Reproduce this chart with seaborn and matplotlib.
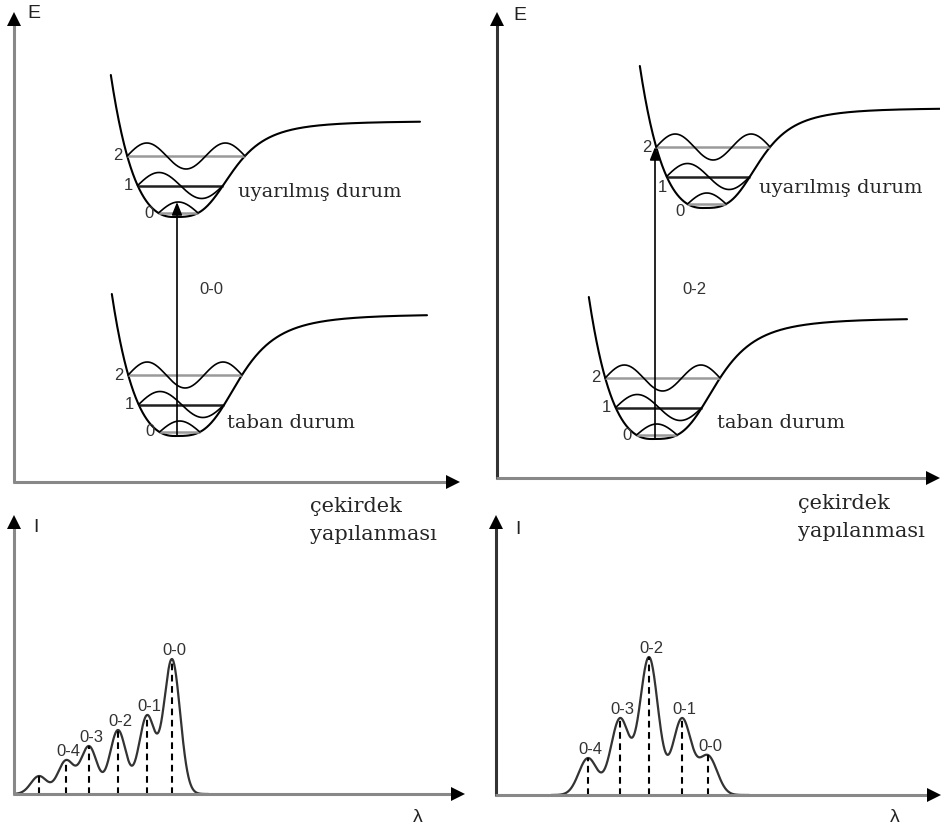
import numpy as np
import matplotlib
matplotlib.use("Agg")
import matplotlib.pyplot as plt
import seaborn as sns

sns.set_style("white")
plt.rcParams["font.family"] = ["Liberation Sans", "DejaVu Sans"]

FIG_W, FIG_H = 942, 827

# ---------------- data ----------------
# vibrational levels: energy above well minimum, wavefunction amplitude
level_labels = ["0", "1", "2"]
level_energy = [4.0, 31.5, 61.0]
wave_amplitude = [11.0, 13.0, 13.0]

# potential wells: TL excited, TL ground, TR excited, TR ground
well_panel = [0, 0, 1, 1]
well_min_q = [159, 160, 205, 154]
well_min_e = [265, 46, 270, 39]
well_depth = [96, 122, 100, 121]
well_width = [61.4, 68, 59.9, 68.7]
well_q_end = [406, 413, 445, 410]

# state names
state_names = ["uyarılmış durum", "taban durum"]

# transitions drawn in the top panels
transition_label = ["0-0", "0-2"]
transition_upper_v = [0, 2]
transition_q = [163, 158]

# spectra (bottom panels)
spec_left_pos = [25, 52, 75, 104, 133, 158]
spec_left_int = [18, 34, 48, 64, 79, 135]
spec_left_lab = ["", "0-4", "0-3", "0-2", "0-1", "0-0"]
spec_right_pos = [92, 124, 153, 186, 212]
spec_right_int = [37, 77, 138, 77, 40]
spec_right_lab = ["0-4", "0-3", "0-2", "0-1", "0-0"]

axis_E, axis_I, axis_q, axis_lam = "E", "I", ["çekirdek", "yapılanması"], "λ"

# ---------------- helpers ----------------
A_LEFT, D_LEFT, WALL_TOP, P_RIGHT = 0.0128, 96.0, 142.0, 3.5
SERIF = ["DejaVu Serif"]
SANS = ["Liberation Sans", "DejaVu Sans"]


def potential(r, depth, width):
    r = np.asarray(r, float)
    left = D_LEFT * (np.exp(-A_LEFT * r) - 1) ** 2
    z = (np.clip(r, 0, None) / width) ** P_RIGHT
    right = depth * z / (1 + z)
    return np.where(r < 0, left, right)


def turning_points(e, depth, width):
    rl = -np.log(1 + np.sqrt(e / D_LEFT)) / A_LEFT
    rr = width * (e / (depth - e)) ** (1 / P_RIGHT)
    return rl, rr


def line(ax, x, y, **kw):
    sns.lineplot(x=np.asarray(x, float), y=np.asarray(y, float), ax=ax,
                 sort=False, estimator=None, legend=False, **kw)


def make_axes(fig, left, bottom, width, height):
    ax = fig.add_axes([left / FIG_W, (FIG_H - bottom) / FIG_H, width / FIG_W, height / FIG_H])
    ax.axis("off")
    return ax


def finish_axes(ax, width, height, vcolor, hcolor):
    ax.plot([0, 0], [-1, height - 8], color=vcolor, lw=2.2, clip_on=False, solid_capstyle="butt")
    ax.plot([-1, width - 8], [0, 0], color=hcolor, lw=2.2, clip_on=False, solid_capstyle="butt")
    ax.plot([0], [height - 7], marker="^", ms=10.5, mew=0, color="black", clip_on=False)
    ax.plot([width - 7], [0], marker=">", ms=10.5, mew=0, color="black", clip_on=False)
    ax.set_xlim(0, width)
    ax.set_ylim(0, height)


fig = plt.figure(figsize=(FIG_W / 100, FIG_H / 100), dpi=100)
fig.patch.set_facecolor("white")

top_rects = [(14, 482, 446, 470), (497, 478, 443, 466)]
bot_rects = [(14, 794, 451, 279), (496, 795, 445, 280)]
top_axes = [make_axes(fig, *r) for r in top_rects]
bot_axes = [make_axes(fig, *r) for r in bot_rects]

level_colors = ["#9a9a9a", "#202020", "#9a9a9a"]

# ---------------- wells ----------------
for w in range(4):
    ax = top_axes[well_panel[w]]
    q0, e0, D, s = well_min_q[w], well_min_e[w], well_depth[w], well_width[w]
    r_top = -np.log(1 + np.sqrt(WALL_TOP / D_LEFT)) / A_LEFT
    r = np.linspace(r_top, well_q_end[w] - q0, 700)
    line(ax, q0 + r, e0 + potential(r, D, s), color="black", lw=1.5)
    for v in range(3):
        ev = level_energy[v]
        rl, rr = turning_points(ev, D, s)
        ax.plot([q0 + rl, q0 + rr], [e0 + ev, e0 + ev], color=level_colors[v], lw=1.8,
                solid_capstyle="butt")
        t = np.linspace(0, 1, 200)
        line(ax, q0 + rl + t * (rr - rl), e0 + ev + wave_amplitude[v] * np.sin((v + 1) * np.pi * t),
             color="black", lw=1.2)
        # level number
        if w == 2 and v < 2:
            dx, dy, ha = (-4, -11, "center") if v == 1 else (-7, -8, "center")
        else:
            dx, dy, ha = -5, 0, "right"
        ax.text(q0 + rl + dx, e0 + ev + dy, level_labels[v], ha=ha, va="center",
                fontsize=12, family=SANS, color="#333333")

# transitions
for p in range(2):
    ax = top_axes[p]
    ground = [w for w in range(4) if well_panel[w] == p and w % 2 == 1][0]
    excited = [w for w in range(4) if well_panel[w] == p and w % 2 == 0][0]
    v = transition_upper_v[p]
    tip = well_min_e[excited] + level_energy[v] + (wave_amplitude[0] if v == 0 else 0)
    ax.annotate("", xy=(transition_q[p], tip), xytext=(transition_q[p], well_min_e[ground]),
                arrowprops=dict(arrowstyle="-|>,head_length=0.55,head_width=0.22", color="black",
                                lw=1.2, shrinkA=0, shrinkB=0, mutation_scale=14),
                annotation_clip=False)

# top panel texts
top_txt = [
    dict(E=(20, 469), tr=(197, 192), exc=(224, 285), gnd=(213, 54), q=(296, -30)),
    dict(E=(23, 463), tr=(197, 188), exc=(262, 285), gnd=(220, 50), q=(301, -31)),
]
for p in range(2):
    ax, tx = top_axes[p], top_txt[p]
    ax.text(*tx["E"], axis_E, ha="center", va="center", fontsize=14, family=SANS, color="#222222")
    ax.text(*tx["tr"], transition_label[p], ha="center", va="center", fontsize=12, family=SANS,
            color="#333333")
    ax.text(*tx["exc"], state_names[0], ha="left", va="baseline", fontsize=14, family=SERIF)
    ax.text(*tx["gnd"], state_names[1], ha="left", va="baseline", fontsize=14, family=SERIF)
    ax.text(tx["q"][0], tx["q"][1], axis_q[0], ha="left", va="baseline", fontsize=15, family=SERIF)
    ax.text(tx["q"][0], tx["q"][1] - 28, axis_q[1], ha="left", va="baseline", fontsize=15, family=SERIF)

finish_axes(top_axes[0], 446, 470, "#888888", "#888888")
finish_axes(top_axes[1], 443, 466, "#333333", "#888888")

# ---------------- spectra ----------------
def spectrum(pos, inten, sigma, x):
    pos = np.asarray(pos, float)
    inten = np.asarray(inten, float)
    G = np.exp(-(pos[:, None] - pos[None, :]) ** 2 / (2 * sigma ** 2))
    amp = np.linalg.solve(G, inten)
    return (amp[None, :] * np.exp(-(x[:, None] - pos[None, :]) ** 2 / (2 * sigma ** 2))).sum(1)


spec_sets = [(spec_left_pos, spec_left_int, spec_left_lab, 8.1),
             (spec_right_pos, spec_right_int, spec_right_lab, 9.2)]
for p in range(2):
    ax = bot_axes[p]
    pos, inten, labs, sig = spec_sets[p]
    x = np.linspace(pos[0] - 4.0 * sig, pos[-1] + 4.5 * sig, 800)
    line(ax, x, spectrum(pos, inten, sig, x), color="#333333", lw=1.6)
    for xp, h, lab in zip(pos, inten, labs):
        ax.plot([xp, xp], [0, h], color="black", lw=1.5, linestyle=(0, (3.2, 2.2)))
        if lab:
            ax.text(xp + 2, h + 1, lab, ha="center", va="bottom", fontsize=12, family=SANS,
                    color="#333333")
    ax.text(22, 266, axis_I, ha="center", va="center", fontsize=14, family=SANS, color="#222222")
    ax.text(404 if p == 0 else 399, -23, axis_lam, ha="center", va="center", fontsize=14,
            family=SANS, color="#222222")

finish_axes(bot_axes[0], 451, 279, "#888888", "#888888")
finish_axes(bot_axes[1], 445, 280, "#333333", "#888888")

fig.savefig("out.png", dpi=100, facecolor="white")
